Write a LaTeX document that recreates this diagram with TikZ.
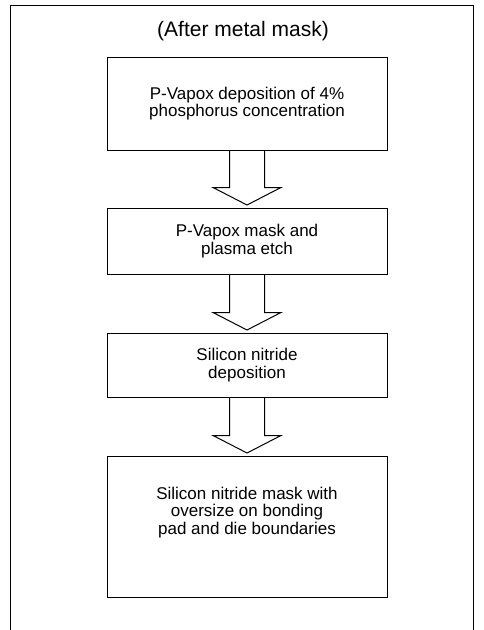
\documentclass[tikz,border=0pt]{standalone}
\usepackage{fontspec}
\setmainfont{Liberation Sans}
\usetikzlibrary{positioning,calc}

\begin{document}
\begin{tikzpicture}[x=1pt,y=1pt,node distance=57pt,
 stepbox/.style={draw,line width=1pt,rectangle,align=center,minimum width=280pt,inner sep=3pt,
   font=\fontsize{17}{17.5}\selectfont},
 blk/.style={draw,line width=1pt,line join=miter},
 frame/.style={draw,line width=0.9pt}]
\useasboundingbox (0,0) rectangle (483,-630);
\draw[frame] (10,-640) |- (473,-5) -- (473,-640);
\node[font=\fontsize{21}{24}\selectfont] (title) at (243,-31) {(After metal mask)};
\node[stepbox,minimum height=93pt] (dep) at (247,-103.5) {P-Vapox deposition of 4\%\\ phosphorus concentration};
\node[stepbox,minimum height=66pt,below=of dep] (etch) {P-Vapox mask and\\ plasma etch};
\node[stepbox,minimum height=64pt,below=58pt of etch] (nit) {Silicon nitride\\ deposition};
\node[stepbox,minimum height=141pt,below=58pt of nit] (pad) {Silicon nitride mask with\\ oversize on bonding\\ pad and die boundaries\\[14pt]};
% hollow block arrows between the steps
\foreach \a/\b in {dep/etch,etch/nit,nit/pad}
 \draw[blk] ($(\a.south)+(-17.5,0)$) -- ($(\b.north)+(-17.5,20)$) -- ($(\b.north)+(-34,20)$)
  -- ($(\b.north)+(0,2.5)$) -- ($(\b.north)+(34,20)$) -- ($(\b.north)+(17.5,20)$) -- ($(\a.south)+(17.5,0)$);
\end{tikzpicture}
\end{document}
